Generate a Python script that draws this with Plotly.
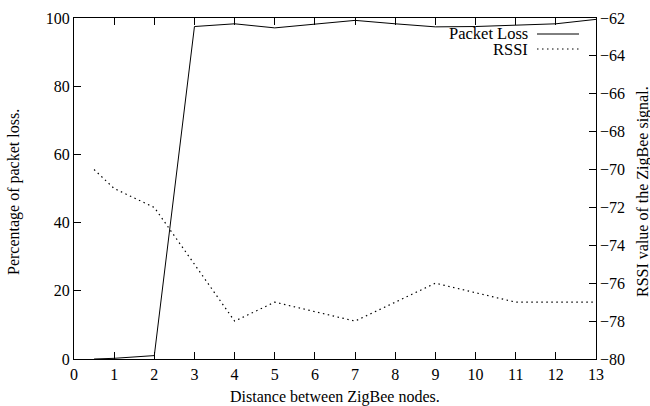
import plotly.graph_objects as go

# Data
distance = [0.5, 1, 2, 3, 4, 5, 6, 7, 8, 9, 10, 11, 12, 13]
packet_loss = [0, 0.2, 1.0, 97.5, 98.3, 97.1, 98.2, 99.3, 98.3, 97.4, 97.5, 97.8, 98.3, 99.6]
rssi = [-70, -71, -72, -75, -78, -77, -77.5, -78, -77, -76, -76.5, -77, -77, -77]

x_ticks = list(range(0, 14))
y1_ticks = [0, 20, 40, 60, 80, 100]
y2_ticks = [-80, -78, -76, -74, -72, -70, -68, -66, -64, -62]

legend_names = ["Packet Loss", "RSSI"]
x_title = "Distance between ZigBee nodes."
y_title = "Percentage of packet loss."
y2_title = "RSSI value of the ZigBee signal."

FONT = "Times New Roman"
FS = 16

fig = go.Figure()
fig.add_trace(go.Scatter(x=distance, y=packet_loss, mode="lines", name=legend_names[0],
                         line=dict(color="black", width=1), yaxis="y"))
fig.add_trace(go.Scatter(x=distance, y=rssi, mode="lines", name=legend_names[1],
                         line=dict(color="black", width=1.2, dash="1.5px,3.5px"), yaxis="y2"))

L, R, T, B = 74, 54, 18, 47
W, H = 650, 406
pw, ph = W - L - R, H - T - B

def px(x):
    return (x - L) / pw

def py(y):
    return (H - B - y) / ph

font = dict(family=FONT, size=FS, color="black")
fig.update_layout(
    width=W, height=H,
    margin=dict(l=L, r=R, t=T, b=B, pad=0),
    paper_bgcolor="white", plot_bgcolor="white",
    showlegend=False,
    font=font,
    xaxis=dict(range=[0, 13], tickvals=x_ticks, ticks="inside", ticklen=7, tickcolor="black",
               showline=True, linecolor="black", linewidth=1, mirror="ticks", showgrid=False,
               zeroline=False, ticklabelstandoff=1, tickfont=font, automargin=False),
    yaxis=dict(range=[0, 100], tickvals=y1_ticks, ticks="inside", ticklen=7, tickcolor="black",
               showline=True, linecolor="black", linewidth=1, mirror=True, showgrid=False,
               zeroline=False, tickfont=font, automargin=False),
    yaxis2=dict(range=[-80, -62], tickvals=y2_ticks, overlaying="y", side="right",
                ticks="inside", ticklen=7, tickcolor="black", showline=False, showgrid=False,
                zeroline=False, ticklabelstandoff=3, tickfont=font, automargin=False),
)

# axis titles
fig.add_annotation(x=0.5, y=py(397), xref="paper", yref="paper", text=x_title, showarrow=False,
                   xanchor="center", yanchor="middle", font=font)
fig.add_annotation(x=px(14), y=py(192), xref="paper", yref="paper", text=y_title, showarrow=False,
                   textangle=-90, xanchor="center", yanchor="middle", font=font)
fig.add_annotation(x=px(643), y=py(192), xref="paper", yref="paper", text=y2_title, showarrow=False,
                   textangle=-90, xanchor="center", yanchor="middle", font=font)

# legend (gnuplot-style: text then sample)
ys = [34, 49]
dashes = ["solid", "1.5px,3.5px"]
for name, yy, d in zip(legend_names, ys, dashes):
    fig.add_annotation(x=px(530), y=py(yy), xref="paper", yref="paper", text=name,
                       showarrow=False, xanchor="right", yanchor="middle",
                       font=dict(family=FONT, size=16.5, color="black"))
    fig.add_shape(type="line", xref="paper", yref="paper", x0=px(537), x1=px(579),
                  y0=py(yy), y1=py(yy), line=dict(color="black", width=1 if d == "solid" else 1.2, dash=d))

fig.write_html("out.html", config={"displayModeBar": False},
               post_script="document.body.style.margin='0px';")
